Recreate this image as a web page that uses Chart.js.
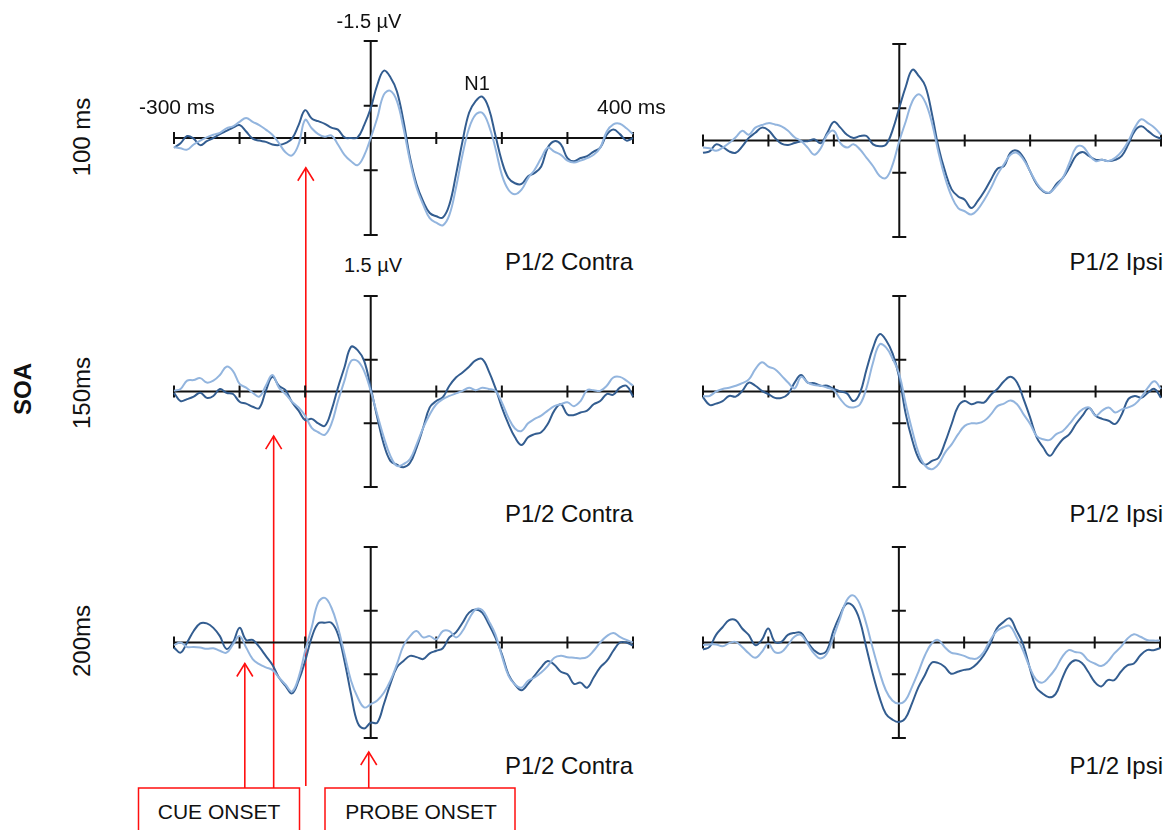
<!DOCTYPE html>
<html>
<head>
<meta charset="utf-8">
<script src="https://cdn.jsdelivr.net/npm/chart.js@4.4.1/dist/chart.umd.min.js"></script>
<style>
  body { margin: 0; background: #fff; width: 1172px; height: 830px; overflow: hidden; position: relative;
         font-family: "Liberation Sans", Arial, sans-serif; }
  .panel { position: absolute; }
  .lbl { position: absolute; white-space: nowrap; color: #111; line-height: 1; }
  #marks { position: absolute; left: 0; top: 0; }
</style>
</head>
<body>
<svg id="marks" width="1172" height="830"></svg>
<script>
// Time base shared by every trace (ms), and axis ticks.
const TIMES = [-300, -290, -280, -270, -260, -250, -240, -230, -220, -210,
  -200, -190, -180, -170, -160, -150, -140, -130, -120, -110,
  -100, -90, -80, -70, -60, -50, -40, -30, -20, -10,
  0, 10, 20, 30, 40, 50, 60, 70, 80, 90,
  100, 110, 120, 130, 140, 150, 160, 170, 180, 190,
  200, 210, 220, 230, 240, 250, 260, 270, 280, 290,
  300, 310, 320, 330, 340, 350, 360, 370, 380, 390, 400];
const X_TICKS = [-300, -200, -100, 0, 100, 200, 300, 400];
const Y_TICKS = [-1.5, -0.5, 0.5, 1.5];

// µV values (negative is up).
const CONTRA_100_DARK = [0.15, 0.08, -0.03, 0.01, 0.11, 0.05, 0, -0.06, -0.11, -0.16,
  -0.2, -0.1, 0.01, 0.04, 0.06, 0.1, 0.11, 0.08, 0.01, -0.2,
  -0.43, -0.3, -0.26, -0.22, -0.16, -0.13, -0.01, 0, -0.01, -0.2,
  -0.46, -0.82, -1.04, -0.94, -0.72, -0.26, 0.31, 0.72, 0.98, 1.16,
  1.21, 1.23, 1.03, 0.57, 0.05, -0.39, -0.57, -0.64, -0.46, -0.05,
  0.36, 0.62, 0.7, 0.71, 0.59, 0.54, 0.44, 0.15, 0.05, 0.1,
  0.31, 0.36, 0.31, 0.28, 0.21, 0.15, -0.05, -0.13, -0.06, 0.04, 0];
const CONTRA_100_LIGHT = [0.14, 0.16, 0.18, 0.1, 0.04, -0.01, -0.05, -0.08, -0.15, -0.18,
  -0.25, -0.31, -0.25, -0.2, -0.13, -0.05, 0.08, 0.22, 0.27, 0.1,
  -0.28, -0.15, -0.06, -0.02, -0.04, 0.1, 0.26, 0.36, 0.42, 0.27,
  0, -0.31, -0.67, -0.73, -0.57, -0.15, 0.36, 0.77, 1.03, 1.24,
  1.31, 1.35, 1.19, 0.77, 0.26, -0.15, -0.36, -0.39, -0.2, 0.15,
  0.57, 0.8, 0.87, 0.8, 0.62, 0.49, 0.31, 0.15, 0.21, 0.26,
  0.35, 0.38, 0.35, 0.31, 0.26, 0.15, -0.1, -0.21, -0.22, -0.15, -0.06];
const IPSI_100_DARK = [0.19, 0.17, 0.06, 0.1, 0.17, 0.19, 0.09, -0.04, -0.12, -0.2,
  -0.16, -0.04, 0.05, 0.07, 0.04, 0.01, 0.01, -0.02, 0.04, -0.12,
  -0.29, -0.2, -0.09, -0.04, -0.07, -0.07, 0.06, 0.09, 0.06, -0.17,
  -0.51, -0.84, -1.1, -1.0, -0.84, -0.41, 0.11, 0.48, 0.76, 0.87,
  0.92, 1.05, 0.94, 0.79, 0.61, 0.44, 0.4, 0.19, 0.16, 0.27,
  0.48, 0.68, 0.79, 0.81, 0.68, 0.58, 0.42, 0.24, 0.18, 0.24,
  0.3, 0.3, 0.32, 0.3, 0.24, 0.06, -0.15, -0.22, -0.15, -0.07, -0.03];
const IPSI_100_LIGHT = [0.11, 0.12, 0.16, 0.11, 0.04, -0.05, -0.15, -0.09, -0.2, -0.24,
  -0.27, -0.25, -0.22, -0.15, -0.05, 0.01, 0.11, 0.22, 0.12, -0.09,
  -0.15, 0.04, 0.11, 0.06, 0.14, 0.27, 0.4, 0.55, 0.58, 0.37,
  0.01, -0.3, -0.61, -0.72, -0.59, -0.27, 0.19, 0.58, 0.87, 1.05,
  1.1, 1.15, 1.07, 0.92, 0.74, 0.53, 0.37, 0.22, 0.19, 0.3,
  0.48, 0.66, 0.78, 0.81, 0.71, 0.58, 0.35, 0.11, 0.09, 0.22,
  0.32, 0.3, 0.32, 0.27, 0.17, 0.01, -0.2, -0.33, -0.27, -0.2, -0.09];
const CONTRA_150_DARK = [0.02, 0.15, 0.12, 0.08, 0.02, 0.1, 0.07, -0.04, 0.02, 0.04,
  0.16, 0.19, 0.24, 0.26, -0.01, -0.23, -0.09, -0.02, 0.17, 0.3,
  0.45, 0.43, 0.5, 0.54, 0.3, -0.06, -0.38, -0.7, -0.65, -0.48,
  -0.06, 0.41, 0.83, 1.09, 1.15, 1.19, 1.12, 0.88, 0.57, 0.25,
  0.15, 0.09, -0.09, -0.22, -0.3, -0.39, -0.49, -0.51, -0.32, -0.06,
  0.25, 0.51, 0.72, 0.84, 0.72, 0.67, 0.64, 0.51, 0.3, 0.2,
  0.36, 0.37, 0.33, 0.3, 0.2, 0.15, 0.04, 0.05, -0.06, -0.09, 0.08];
const CONTRA_150_LIGHT = [-0.01, -0.04, -0.17, -0.18, -0.21, -0.14, -0.17, -0.26, -0.39, -0.32,
  -0.12, -0.06, 0.02, 0.08, -0.09, -0.26, -0.06, 0.04, 0.16, 0.25,
  0.38, 0.57, 0.64, 0.68, 0.51, 0.15, -0.17, -0.48, -0.48, -0.32,
  -0.01, 0.36, 0.72, 1.01, 1.17, 1.14, 1.06, 0.83, 0.57, 0.36,
  0.2, 0.12, 0.07, 0.03, -0.01, -0.06, -0.02, -0.06, -0.04, -0.01,
  0.17, 0.41, 0.58, 0.62, 0.5, 0.43, 0.38, 0.3, 0.23, 0.2,
  0.17, 0.23, 0.15, -0.02, -0.02, -0.01, -0.09, -0.22, -0.23, -0.17, -0.09];
const IPSI_150_DARK = [0.09, 0.21, 0.19, 0.15, 0.07, 0.08, -0.01, -0.14, -0.09, -0.01,
  0.04, 0.1, 0.1, 0.04, -0.14, -0.26, -0.14, -0.13, -0.09, -0.09,
  -0.04, 0, 0.03, 0.15, 0.02, -0.35, -0.69, -0.9, -0.8, -0.59,
  -0.22, 0.36, 0.77, 1.06, 1.15, 1.09, 1.04, 0.8, 0.51, 0.23,
  0.15, 0.2, 0.17, 0.17, 0.05, -0.04, -0.16, -0.23, -0.14, 0.12,
  0.41, 0.72, 0.88, 1.01, 0.88, 0.75, 0.67, 0.51, 0.38, 0.26,
  0.38, 0.43, 0.46, 0.51, 0.36, 0.12, 0.07, 0.1, 0.02, -0.04, 0.1];
const IPSI_150_LIGHT = [0.07, 0.07, 0, -0.04, -0.06, -0.09, -0.13, -0.19, -0.35, -0.46,
  -0.39, -0.35, -0.25, -0.14, -0.05, -0.23, -0.14, -0.1, -0.09, -0.06,
  -0.02, 0.12, 0.23, 0.25, 0.2, -0.06, -0.46, -0.74, -0.69, -0.51,
  -0.27, 0.2, 0.62, 0.98, 1.17, 1.22, 1.14, 0.96, 0.83, 0.67,
  0.54, 0.5, 0.5, 0.46, 0.36, 0.23, 0.19, 0.14, 0.2, 0.36,
  0.51, 0.7, 0.75, 0.76, 0.67, 0.62, 0.51, 0.38, 0.28, 0.25,
  0.38, 0.3, 0.25, 0.33, 0.28, 0.25, 0.2, 0.09, -0.06, -0.16, -0.04];
const CONTRA_200_DARK = [0.08, 0.16, 0, -0.18, -0.3, -0.3, -0.23, -0.1, 0.1, 0,
  -0.23, -0.04, -0.04, 0.07, 0.21, 0.35, 0.55, 0.68, 0.8, 0.6,
  0.29, -0.08, -0.3, -0.31, -0.31, -0.13, 0.29, 0.81, 1.26, 1.35,
  1.26, 1.26, 0.97, 0.65, 0.39, 0.29, 0.21, 0.23, 0.26, 0.17,
  0.13, 0.09, -0.08, -0.16, -0.31, -0.47, -0.52, -0.47, -0.29, -0.08,
  0.18, 0.5, 0.66, 0.75, 0.65, 0.52, 0.39, 0.29, 0.35, 0.46,
  0.5, 0.65, 0.63, 0.71, 0.55, 0.39, 0.29, 0.13, 0, 0, 0.05];
const CONTRA_200_LIGHT = [0.04, 0, 0.07, 0.07, 0.08, 0.1, 0.09, 0.13, 0.16, 0.03,
  -0.1, 0.08, 0.26, 0.34, 0.39, 0.43, 0.55, 0.66, 0.77, 0.55,
  0.13, -0.24, -0.63, -0.7, -0.55, -0.24, 0.18, 0.6, 0.86, 1.02,
  0.97, 0.91, 0.79, 0.6, 0.34, 0.05, -0.1, -0.18, -0.08, -0.1,
  -0.05, -0.18, -0.18, -0.08, -0.18, -0.37, -0.52, -0.51, -0.34, -0.13,
  0.21, 0.52, 0.66, 0.71, 0.6, 0.55, 0.47, 0.37, 0.24, 0.21,
  0.23, 0.24, 0.25, 0.23, 0.13, 0, -0.1, -0.15, -0.09, -0.04, 0];
const IPSI_200_DARK = [0.11, 0.07, -0.12, -0.24, -0.35, -0.35, -0.22, -0.12, 0.04, -0.04,
  -0.22, -0.01, -0.01, -0.12, -0.15, -0.15, -0.01, 0.12, 0.18, 0.12,
  -0.19, -0.43, -0.61, -0.57, -0.35, 0.07, 0.49, 0.85, 1.12, 1.21,
  1.25, 1.19, 0.96, 0.7, 0.51, 0.32, 0.32, 0.38, 0.49, 0.46,
  0.43, 0.41, 0.33, 0.2, 0.02, -0.22, -0.32, -0.38, -0.19, 0.02,
  0.38, 0.7, 0.8, 0.86, 0.81, 0.57, 0.36, 0.28, 0.32, 0.46,
  0.62, 0.69, 0.59, 0.59, 0.46, 0.36, 0.33, 0.2, 0.12, 0.12, 0.09];
const IPSI_200_LIGHT = [0.04, 0.03, 0.03, 0.06, 0.01, -0.01, 0.07, 0.17, 0.24, 0.15,
  0.02, 0.15, 0.15, 0.04, -0.09, -0.12, 0.02, 0.17, 0.25, 0.17,
  -0.09, -0.38, -0.66, -0.74, -0.61, -0.3, 0.09, 0.45, 0.75, 0.91,
  0.96, 0.91, 0.7, 0.46, 0.2, 0.02, -0.04, 0.07, 0.16, 0.18,
  0.21, 0.25, 0.25, 0.15, -0.04, -0.18, -0.24, -0.26, -0.09, 0.12,
  0.38, 0.58, 0.63, 0.54, 0.41, 0.23, 0.12, 0.15, 0.17, 0.28,
  0.33, 0.37, 0.3, 0.17, 0.07, -0.06, -0.13, -0.09, -0.04, -0.03, -0.03];

// Onset markers: where each arrow points (ms, µV) in the left-hand panel of its row.
const CUE_ARROWS = [
  { row: 0, ms: -99, uv: 0.46 },
  { row: 1, ms: -148, uv: 0.7 },
  { row: 2, ms: -192, uv: 0.33 },
];
const PROBE_ARROW = { row: 2, ms: -3, uv: 1.72 };

const DARK = '#335d90';
const LIGHT = '#93b5de';
const RED = '#ff0f0f';
const PAD = 10;

// Plot-area placement of each panel (left, top, width, height in px).
const PANELS = [
  { left: 174, top: 41, w: 459, h: 194, dark: CONTRA_100_DARK, light: CONTRA_100_LIGHT },
  { left: 703, top: 44, w: 458, h: 193, dark: IPSI_100_DARK, light: IPSI_100_LIGHT },
  { left: 174, top: 296, w: 459, h: 191, dark: CONTRA_150_DARK, light: CONTRA_150_LIGHT },
  { left: 703, top: 296, w: 458, h: 191, dark: IPSI_150_DARK, light: IPSI_150_LIGHT },
  { left: 174, top: 547, w: 459, h: 191, dark: CONTRA_200_DARK, light: CONTRA_200_LIGHT },
  { left: 703, top: 547, w: 457, h: 191, dark: IPSI_200_DARK, light: IPSI_200_LIGHT },
];

// Axes cross at (0 ms, 0 µV) with ticks straddling both lines.
const crossAxes = {
  id: 'crossAxes',
  beforeDatasetsDraw(chart) {
    const { ctx } = chart;
    const x = chart.scales.x;
    const y = chart.scales.y;
    const x0 = x.getPixelForValue(0);
    const y0 = y.getPixelForValue(0);
    ctx.save();
    ctx.strokeStyle = '#111';
    ctx.lineWidth = 2;
    ctx.beginPath();
    ctx.moveTo(x.getPixelForValue(-300), y0);
    ctx.lineTo(x.getPixelForValue(400), y0);
    X_TICKS.forEach((t) => {
      const px = x.getPixelForValue(t);
      ctx.moveTo(px, y0 - 6);
      ctx.lineTo(px, y0 + 6);
    });
    ctx.moveTo(x0, y.getPixelForValue(-1.5));
    ctx.lineTo(x0, y.getPixelForValue(1.5));
    Y_TICKS.forEach((v) => {
      const py = y.getPixelForValue(v);
      ctx.moveTo(x0 - 7, py);
      ctx.lineTo(x0 + 7, py);
    });
    ctx.stroke();
    ctx.restore();
  },
};

function pairs(values) {
  return TIMES.map((t, i) => ({ x: t, y: values[i] }));
}

const charts = PANELS.map((p) => {
  const div = document.createElement('div');
  div.className = 'panel';
  div.style.left = p.left - PAD + 'px';
  div.style.top = p.top - PAD + 'px';
  const canvas = document.createElement('canvas');
  canvas.width = p.w + 2 * PAD;
  canvas.height = p.h + 2 * PAD;
  div.appendChild(canvas);
  document.body.appendChild(div);
  return new Chart(canvas, {
    type: 'line',
    data: {
      datasets: [
        { data: pairs(p.light), borderColor: LIGHT },
        { data: pairs(p.dark), borderColor: DARK },
      ],
    },
    options: {
      responsive: false,
      animation: false,
      layout: { padding: PAD },
      plugins: { legend: { display: false }, tooltip: { enabled: false } },
      scales: {
        x: { type: 'linear', min: -300, max: 400, display: false },
        y: { min: -1.5, max: 1.5, reverse: true, display: false },
      },
      elements: {
        point: { radius: 0 },
        line: { tension: 0.4, borderWidth: 2, fill: false },
      },
      datasets: { line: { clip: false } },
    },
    plugins: [crossAxes],
  });
});

// Text labels as real DOM text.
const LABELS = [
  { text: '-1.5 µV', x: 369, y: 21, size: 20, anchor: 'center' },
  { text: '1.5 µV', x: 373, y: 265, size: 20, anchor: 'center' },
  { text: '-300 ms', x: 139, y: 106, size: 21, anchor: 'left' },
  { text: '400 ms', x: 597, y: 106, size: 21, anchor: 'left' },
  { text: 'N1', x: 477, y: 83, size: 20, anchor: 'center' },
  { text: 'P1/2 Contra', x: 633, y: 262, size: 24, anchor: 'right' },
  { text: 'P1/2 Contra', x: 633, y: 514, size: 24, anchor: 'right' },
  { text: 'P1/2 Contra', x: 633, y: 766, size: 24, anchor: 'right' },
  { text: 'P1/2 Ipsi', x: 1163, y: 262, size: 24, anchor: 'right' },
  { text: 'P1/2 Ipsi', x: 1163, y: 514, size: 24, anchor: 'right' },
  { text: 'P1/2 Ipsi', x: 1163, y: 766, size: 24, anchor: 'right' },
  { text: '100 ms', x: 82, y: 137, size: 24, anchor: 'center', rotate: true },
  { text: '150ms', x: 82, y: 393, size: 24, anchor: 'center', rotate: true },
  { text: '200ms', x: 82, y: 641, size: 24, anchor: 'center', rotate: true },
  { text: 'SOA', x: 23, y: 389, size: 24, anchor: 'center', rotate: true, bold: true },
  { text: 'CUE ONSET', x: 219, y: 811, size: 21, anchor: 'center' },
  { text: 'PROBE ONSET', x: 421, y: 811, size: 21, anchor: 'center' },
];

LABELS.forEach((l) => {
  const el = document.createElement('div');
  el.className = 'lbl';
  el.textContent = l.text;
  el.style.left = l.x + 'px';
  el.style.top = l.y + 'px';
  el.style.fontSize = l.size + 'px';
  if (l.bold) el.style.fontWeight = 'bold';
  const tx = l.anchor === 'left' ? '0' : l.anchor === 'right' ? '-100%' : '-50%';
  el.style.transform = `translate(${tx}, -50%)` + (l.rotate ? ' rotate(-90deg)' : '');
  document.body.appendChild(el);
});

// Red onset markers, placed through the left-hand charts' scales.
const svg = document.getElementById('marks');
function svgEl(tag, attrs) {
  const e = document.createElementNS('http://www.w3.org/2000/svg', tag);
  Object.keys(attrs).forEach((k) => e.setAttribute(k, attrs[k]));
  svg.appendChild(e);
  return e;
}
function toPage(a) {
  const p = PANELS[a.row * 2];
  const c = charts[a.row * 2];
  return {
    x: p.left - PAD + c.scales.x.getPixelForValue(a.ms),
    y: p.top - PAD + c.scales.y.getPixelForValue(a.uv),
  };
}
function arrow(tip, bottom) {
  svgEl('line', { x1: tip.x, y1: bottom, x2: tip.x, y2: tip.y, stroke: RED, 'stroke-width': 1.6 });
  svgEl('polyline', {
    points: `${tip.x - 8},${tip.y + 13} ${tip.x},${tip.y} ${tip.x + 8},${tip.y + 13}`,
    fill: 'none', stroke: RED, 'stroke-width': 1.6,
  });
}
CUE_ARROWS.forEach((a, i) => arrow(toPage(a), i === 0 ? 786 : 788));
arrow(toPage(PROBE_ARROW), 788);
svgEl('rect', { x: 138.5, y: 788, width: 161, height: 60, fill: 'none', stroke: RED, 'stroke-width': 1.5 });
svgEl('rect', { x: 325, y: 788, width: 190, height: 60, fill: 'none', stroke: RED, 'stroke-width': 1.5 });
</script>
</body>
</html>
